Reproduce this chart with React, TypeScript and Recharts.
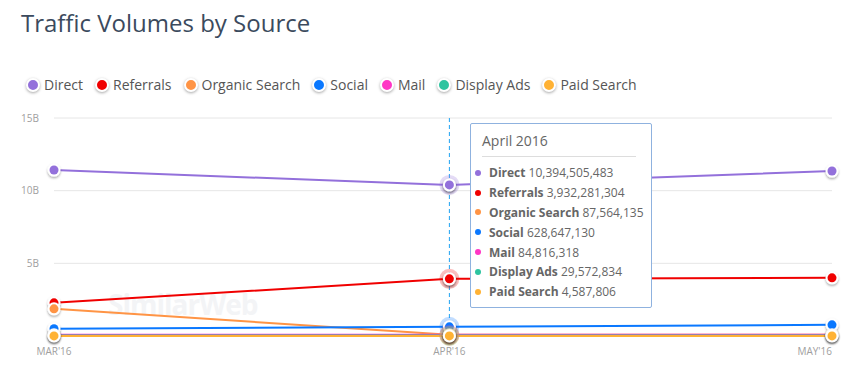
import React from 'react'
import {
  LineChart, Line, XAxis, YAxis, CartesianGrid, Tooltip
} from 'recharts'

const months = ["MAR'16", "APR'16", "MAY'16"]
const monthNames = ['March 2016', 'April 2016', 'May 2016']
// days since 1 Mar 2016 (time axis: March has 31 days, April 30)
const monthDays = [0, 31, 61]
const direct = [11420000000, 10394505483, 11350000000]
const referrals = [2280000000, 3932281304, 4000000000]
const organic = [1870000000, 87564135, 90000000]
const social = [500000000, 628647130, 770000000]
const mail = [80000000, 84816318, 86000000]
const displayAds = [30000000, 29572834, 31000000]
const paidSearch = [5000000, 4587806, 4700000]
const yTicks = [5000000000, 10000000000, 15000000000]

const series = [
  { key: 'direct', name: 'Direct', color: '#9370db', values: direct },
  { key: 'referrals', name: 'Referrals', color: '#f00000', values: referrals },
  { key: 'organic', name: 'Organic Search', color: '#ff9445', values: organic },
  { key: 'social', name: 'Social', color: '#0a78ff', values: social },
  { key: 'mail', name: 'Mail', color: '#ff36c5', values: mail },
  { key: 'display', name: 'Display Ads', color: '#2ec4a0', values: displayAds },
  { key: 'paid', name: 'Paid Search', color: '#ffb234', values: paidSearch },
]

const data = months.map((m, i) => {
  const row: any = { day: monthDays[i], month: m, label: monthNames[i] }
  series.forEach(s => { row[s.key] = s.values[i] })
  return row
})

const FONT = '"Open Sans", "Noto Sans", sans-serif'

const makeDot = (color: string) => (p: any) => (
  <g key={p.index}>
    <circle cx={p.cx} cy={p.cy} r={6.5} fill="#fff" filter="url(#dotShadow)" />
    <circle cx={p.cx} cy={p.cy} r={4.5} fill={color} />
  </g>
)

const makeActiveDot = (color: string) => (p: any) => (
  <g key={'a' + p.index}>
    <circle cx={p.cx} cy={p.cy} r={10} fill={color} opacity={0.25} />
    <circle cx={p.cx} cy={p.cy} r={6.5} fill="#fff" filter="url(#dotShadow)" />
    <circle cx={p.cx} cy={p.cy} r={4.5} fill={color} />
  </g>
)

const XTick = (p: any) => {
  const i = monthDays.indexOf(p.payload.value)
  const anchor = i === months.length - 1 ? 'end' : 'middle'
  return (
    <text x={p.x} y={p.y} dy={19} textAnchor={anchor} fontSize={10} fill="#a0a0a0" fontFamily={FONT}>
      {months[i]}
    </text>
  )
}

const TipContent = (props: any) => {
  const { active, payload } = props
  if (!active || !payload || !payload.length) return null
  const label = payload[0].payload.label
  return (
    <div style={{
      width: 180, height: 183, background: '#fff', border: '1px solid #8fb2df',
      borderRadius: 2, fontFamily: FONT, color: '#666', boxSizing: 'content-box'
    }}>
      <div style={{ margin: '7px 15px 0 11px', paddingBottom: 6, borderBottom: '1px solid #ddd', fontSize: 14 }}>
        {label}
      </div>
      <div style={{ paddingTop: 6 }}>
        {payload.map((e: any) => (
          <div key={e.dataKey} style={{ height: 19.8, display: 'flex', alignItems: 'center', fontSize: 12 }}>
            <span style={{
              display: 'inline-block', width: 6, height: 6, borderRadius: 3, background: e.color,
              marginLeft: 4, marginRight: 8
            }} />
            <b>{e.name}</b>&nbsp;{Number(e.value).toLocaleString('en-US')}
          </div>
        ))}
      </div>
    </div>
  )
}

const App: React.FC = () => {
  return (
    <div style={{ position: 'absolute', left: 0, top: 0, width: 853, height: 375, background: '#fff', fontFamily: FONT }}>
      <svg width={0} height={0} style={{ position: 'absolute' }}>
        <defs>
          <filter id="dotShadow" x="-50%" y="-50%" width="200%" height="200%">
            <feDropShadow dx={0} dy={1.5} stdDeviation={1.2} floodColor="#000" floodOpacity={0.35} />
          </filter>
        </defs>
      </svg>
      <div style={{ position: 'absolute', left: 21, top: 6, fontSize: 24, color: '#3b4a5d' }}>
        Traffic Volumes by Source
      </div>
      <div style={{ position: 'absolute', left: 26, top: 75, display: 'flex', alignItems: 'center', fontSize: 14, color: '#555' }}>
        {series.map(s => (
          <div key={s.key} style={{ display: 'flex', alignItems: 'center', marginRight: 12 }}>
            <span style={{
              display: 'inline-block', width: 10, height: 10, borderRadius: 7, background: s.color,
              border: '2px solid #fff', boxShadow: '0 1px 3px rgba(0,0,0,0.35)', marginRight: 4
            }} />
            {s.name}
          </div>
        ))}
      </div>
      <div style={{ position: 'absolute', left: 108, top: 285, fontSize: 28, fontWeight: 700, letterSpacing: -1, color: '#f3f4f6' }}>
        SimilarWeb
      </div>
      <div style={{ position: 'absolute', left: 0, top: 0 }}>
        <LineChart width={853} height={375} data={data}
          margin={{ top: 118, right: 21, left: 0, bottom: 19 }}>
          <CartesianGrid vertical={false} stroke="#e6e6e6" />
          <XAxis dataKey="day" type="number" domain={[0, 61]} ticks={monthDays} axisLine={false}
            tickLine={false} tickSize={0} tickMargin={0} height={20} interval={0} tick={<XTick />} />
          <YAxis width={54} domain={[0, 15000000000]} ticks={yTicks} axisLine={false} tickLine={false}
            tickSize={0} tickMargin={15} tick={{ fontSize: 10, fill: '#a0a0a0', fontFamily: FONT }}
            tickFormatter={(v: number) => v / 1000000000 + 'B'} />
          <Tooltip active defaultIndex={1} content={<TipContent />} position={{ x: 470, y: 123 }}
            cursor={{ stroke: '#1fa2f2', strokeDasharray: '4 3', strokeWidth: 1 }}
            wrapperStyle={{ outline: 'none' }} isAnimationActive={false} />
          {series.map(s => (
            <Line key={s.key} type="linear" dataKey={s.key} name={s.name} stroke={s.color} strokeWidth={2}
              dot={makeDot(s.color)} activeDot={makeActiveDot(s.color)} isAnimationActive={false} />
          ))}
        </LineChart>
      </div>
    </div>
  )
}

export default App
